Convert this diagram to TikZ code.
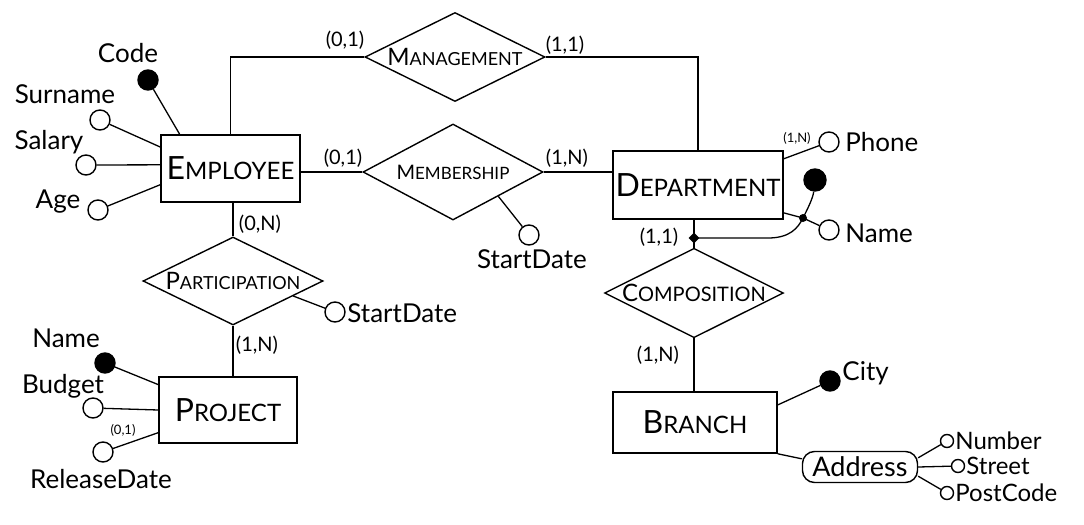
\documentclass[tikz,border=0pt]{standalone}
\usepackage{fontspec}
\setmainfont{Lato}
\usetikzlibrary{shapes.geometric,calc}
\newcommand\ersc[4]{{\fontsize{#3}{#3}\selectfont #1}{\fontsize{#4}{#4}\selectfont #2}}
\begin{document}
\begin{tikzpicture}[x=0.5pt,y=-0.5pt,
  entity/.style={draw, rectangle, inner sep=0pt, line width=0.8pt},
  rel/.style={draw, diamond, aspect=2, inner sep=0pt, line width=0.7pt},
  attr/.style={draw, circle, minimum size=10pt, inner sep=0pt, line width=0.7pt},
  keyattr/.style={attr, fill=black},
  subattr/.style={attr, minimum size=6.5pt},
  lab/.style={font=\fontsize{13}{13}\selectfont, inner sep=0pt},
  sublab/.style={font=\fontsize{12}{12}\selectfont, inner sep=0pt, anchor=west},
  card/.style={font=\fontsize{10}{10}\selectfont, inner sep=0pt},
  tinycard/.style={font=\fontsize{6.5}{6.5}\selectfont, inner sep=0pt},
  conn/.style={line width=0.65pt}]
\fill[white] (0,0) rectangle (1084,525);
\useasboundingbox (0,0) rectangle (1084,525);

% entities
\node[entity, minimum width=69.5pt, minimum height=33.5pt] (emp) at (230.5,168.5) {\ersc{E}{MPLOYEE}{16}{12}};
\node[entity, minimum width=85pt, minimum height=34pt] (dep) at (698,185) {\ersc{D}{EPARTMENT}{16}{12}};
\node[entity, minimum width=69pt, minimum height=33pt] (proj) at (228,410) {\ersc{P}{ROJECT}{16}{12}};
\node[entity, minimum width=82pt, minimum height=30.5pt] (bra) at (695,422.5) {\ersc{B}{RANCH}{16}{12}};

% relationships
\node[rel, minimum width=90pt, minimum height=44.5pt] (man) at (455,57) {\ersc{M}{ANAGEMENT}{12}{9}};
\node[rel, minimum width=90pt, minimum height=48pt] (mem) at (453,172) {\ersc{M}{EMBERSHIP}{10}{8.5}};
\node[rel, minimum width=90pt, minimum height=44pt] (par) at (233,281) {\ersc{P}{ARTICIPATION}{12}{9}};
\node[rel, minimum width=89pt, minimum height=43pt] (com) at (694,293) {\ersc{C}{OMPOSITION}{12}{10}};

% relationship connectors
\draw[conn] (emp.north) |- (man.west);
\draw[conn] (man.east) -| (dep.north);
\node[card] (c1) at (345,40) {(0,1)};
\node[card] (c2) at (565,45) {(1,1)};

\draw[conn] (mem.west) -- (mem.west -| emp.east);
\draw[conn] (mem.east) -- (mem.east -| dep.west);
\node[card] (c3) at (343,158) {(0,1)};
\node[card] (c4) at (567,158) {(1,N)};

\draw[conn] (par.north) -- (par.north |- emp.south);
\draw[conn] (par.south) -- (par.south |- proj.north);
\node[card] (c5) at (260,224) {(0,N)};
\node[card] (c6) at (257,345) {(1,N)};

\draw[conn] (com.north) -- (com.north |- dep.south);
\draw[conn] (com.south) -- (com.south |- bra.north);
\node[card] (c7) at (659,237) {(1,1)};
\node[card] (c8) at (658,355) {(1,N)};

% employee attributes
\node[keyattr] (code) at (148,80) {};
\node[attr] (sur) at (100,120) {};
\node[attr] (sal) at (86,165) {};
\node[attr] (age) at (98,210) {};
\node[lab] (codel) at (128,53) {Code};
\node[lab] (surl) at (65,94) {Surname};
\node[lab] (sall) at (49,142) {Salary};
\node[lab] (agel) at (58,202) {Age};
\draw[conn] (code) -- (emp.146);
\draw[conn] (sur) -- (emp.163);
\draw[conn] (sal) -- (emp.177);
\draw[conn] (age) -- (emp.193);

% project attributes
\node[keyattr] (pname) at (105,363) {};
\node[attr] (bud) at (93,408) {};
\node[attr] (rdate) at (103,452) {};
\node[lab] (pnamel) at (66,338) {Name};
\node[lab] (budl) at (63,386) {Budget};
\node[lab] (rdatel) at (101,479) {ReleaseDate};
\node[tinycard] (c9) at (123,430) {(0,1)};
\draw[conn] (pname) -- (proj.160);
\draw[conn] (bud) -- (proj.west);
\draw[conn] (rdate) -- (proj.198);

% relationship attributes
\node[attr] (msd) at (529,235) {};
\node[lab] (msdl) at (532,259) {StartDate};
\draw[conn] (mem.south east) -- (msd);
\node[attr] (psd) at (335,312) {};
\node[lab, anchor=west] (psdl) at (347,313) {StartDate};
\draw[conn] (par.-14) -- (psd);

% department attributes
\node[attr] (phone) at (829,142) {};
\node[lab, anchor=west] (phonel) at (845,142) {Phone};
\node[tinycard] (c10) at (797,138) {(1,N)};
\draw[conn] (dep.17) -- (phone);
\node[keyattr, minimum size=11pt] (dkey) at (815,180) {};
\node[attr] (dname) at (829,230) {};
\node[lab, anchor=west] (dnamel) at (845,233) {Name};
\coordinate (J) at (803,218);
\draw[conn] (dep.-18) -- (J) -- (dname);
\node[diamond, fill=black, minimum size=5.5pt, inner sep=0pt] (cm) at (694,238) {};
\draw[conn] (cm.center) -- (768,238) .. controls (790,238) and (798,228) .. (J) .. controls (808,208) and (813,198) .. (dkey);
\fill (J) circle (2pt);

% branch attributes
\node[keyattr] (city) at (830,381) {};
\node[lab, anchor=west] (cityl) at (842,373) {City};
\draw[conn] (bra.12) -- (city);
\node[draw, rounded corners=6pt, minimum width=57.5pt, minimum height=15.5pt, inner sep=0pt, line width=0.7pt, font=\fontsize{13.5}{13.5}\selectfont] (addr) at (860,467) {Address};
\draw[conn] (bra.south east) -- (addr.172);
\node[subattr] (num) at (947,441) {};
\node[subattr] (str) at (958,466) {};
\node[subattr] (pc) at (947,493) {};
\node[sublab] (numl) at (955,441) {Number};
\node[sublab] (strl) at (966,466) {Street};
\node[sublab] (pcl) at (955,493) {PostCode};
\draw[conn] (addr.9) -- (num);
\draw[conn] (addr.east) -- (str);
\draw[conn] (addr.-9) -- (pc);
\end{tikzpicture}
\end{document}
